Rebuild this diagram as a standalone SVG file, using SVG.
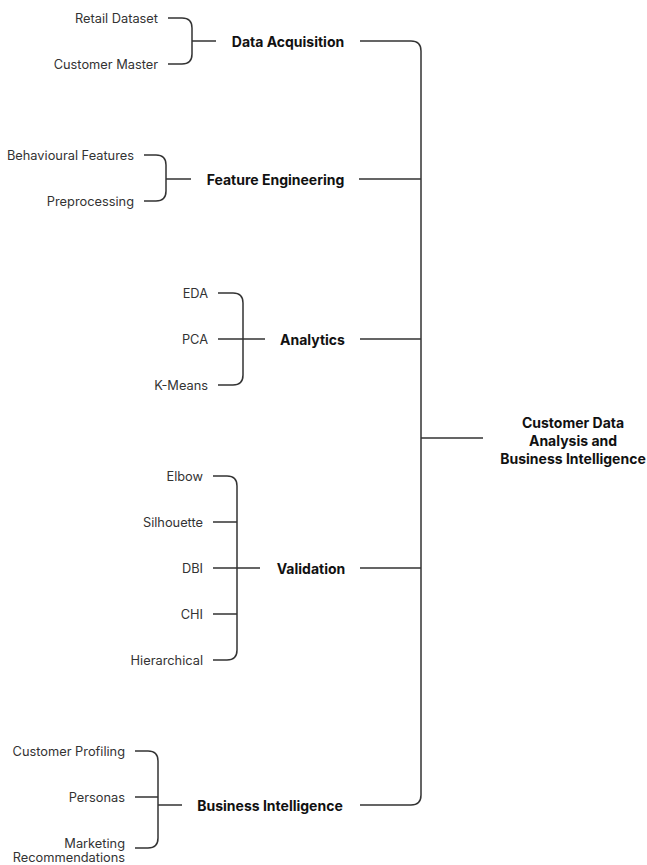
<svg xmlns="http://www.w3.org/2000/svg" width="647" height="865" viewBox="0 0 647 865">
<style>
.l{font-family:Inter,Roboto,"Liberation Sans",sans-serif;font-size:12.8px;fill:#333;text-anchor:end;dominant-baseline:central}
.b{font-family:Inter,Roboto,"Liberation Sans",sans-serif;font-size:14px;font-weight:bold;fill:#111;text-anchor:middle;dominant-baseline:central}
.c{fill:none;stroke:#333;stroke-width:1.5}
</style>
<rect width="647" height="865" fill="#fff"/>
<g id="connectors" class="c">
<path d="M360,41 H411 Q421,41 421,51 V795 Q421,805 411,805 H360"/>
<path d="M359,179 H421 M360,339 H421 M360,568 H421 M421,438 H483"/>
<path d="M168,18 H182 Q192,18 192,28 V54 Q192,64 182,64 H168 M192,41 H216"/>
<path d="M144,155 H156 Q166,155 166,165 V191 Q166,201 156,201 H144 M166,179 H191"/>
<path d="M218,293 H233 Q243,293 243,303 V375 Q243,385 233,385 H218 M218,339 H265"/>
<path d="M213,476 H227 Q237,476 237,486 V650 Q237,660 227,660 H213 M213,522 H237 M213,568 H260 M213,614 H237"/>
<path d="M135,751 H148 Q158,751 158,761 V838 Q158,848 148,848 H135 M135,797 H158 M158,805 H182"/>
</g>
<g id="root"><text class="b" x="573" y="422">Customer Data</text><text class="b" x="573" y="440">Analysis and</text><text class="b" x="573" y="458">Business Intelligence</text></g>
<g id="data-acquisition"><text class="b" x="288" y="41">Data Acquisition</text></g>
<g id="retail-dataset"><text class="l" x="158" y="18">Retail Dataset</text></g>
<g id="customer-master"><text class="l" x="158" y="64">Customer Master</text></g>
<g id="feature-engineering"><text class="b" x="275.5" y="179">Feature Engineering</text></g>
<g id="behavioural-features"><text class="l" x="134" y="155">Behavioural Features</text></g>
<g id="preprocessing"><text class="l" x="134" y="201">Preprocessing</text></g>
<g id="analytics"><text class="b" x="312.5" y="339">Analytics</text></g>
<g id="eda"><text class="l" x="208" y="293">EDA</text></g>
<g id="pca"><text class="l" x="208" y="339">PCA</text></g>
<g id="kmeans"><text class="l" x="208" y="385">K-Means</text></g>
<g id="validation"><text class="b" x="311" y="568">Validation</text></g>
<g id="elbow"><text class="l" x="203" y="476">Elbow</text></g>
<g id="silhouette"><text class="l" x="203" y="522">Silhouette</text></g>
<g id="dbi"><text class="l" x="203" y="568">DBI</text></g>
<g id="chi"><text class="l" x="203" y="614">CHI</text></g>
<g id="hierarchical"><text class="l" x="203" y="660">Hierarchical</text></g>
<g id="business-intelligence"><text class="b" x="270" y="805">Business Intelligence</text></g>
<g id="customer-profiling"><text class="l" x="125" y="751">Customer Profiling</text></g>
<g id="personas"><text class="l" x="125" y="797">Personas</text></g>
<g id="marketing"><text class="l" x="125" y="843">Marketing</text><text class="l" x="125" y="857">Recommendations</text></g>
</svg>
